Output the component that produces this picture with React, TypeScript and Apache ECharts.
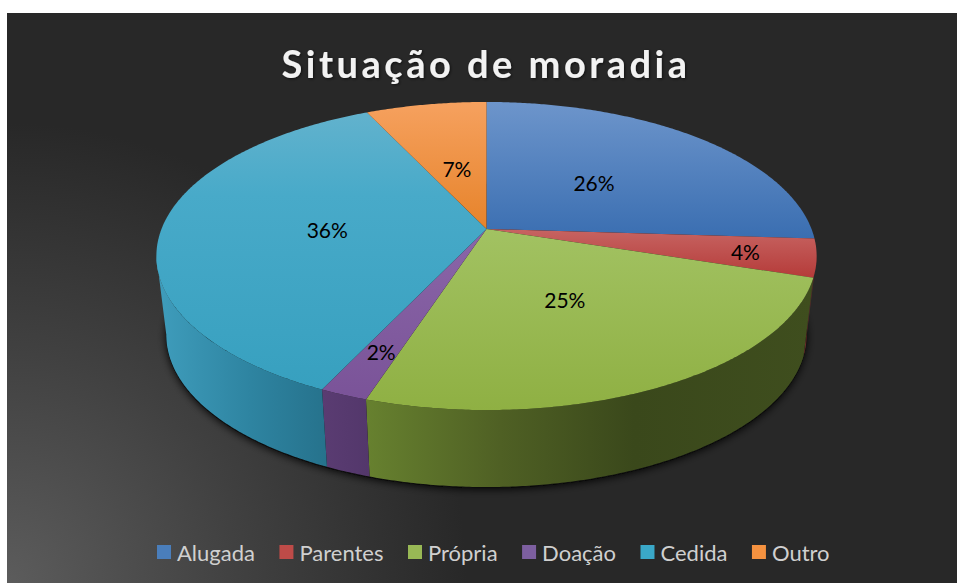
import React, { useEffect, useRef } from "react";
import * as echarts from "echarts";

const titleText = "Situação de moradia";
const categories = ["Alugada", "Parentes", "Própria", "Doação", "Cedida", "Outro"];
const values = [26, 4, 25, 2, 36, 7];
const labelRadii = [0.48, 0.79, 0.49, 0.77, 0.49, 0.45];
const legendColors = ["#4a7ebb", "#be4b48", "#98b855", "#7d5fa0", "#3aa8c8", "#f59240"];
const topStops: [number, string][][] = [
  [[0, "#6d95cb"], [1, "#3a6eb1"]],
  [[0, "#c76462"], [1, "#b53b39"]],
  [[0, "#a2c262"], [1, "#8fb043"]],
  [[0, "#8a66a8"], [1, "#7a5398"]],
  [[0, "#62b2cd"], [0.3, "#48aac9"], [1, "#37a0bf"]],
  [[0, "#f6a15f"], [1, "#e6832a"]],
];
const wallStops: [number, string][][] = [
  [[0, "#2f4a70"], [1, "#2f4a70"]],
  [[0, "#6a2c2a"], [1, "#5e2625"]],
  [[0, "#67812f"], [0.3, "#4f6024"], [0.6, "#3a481b"], [1, "#3f4e1e"]],
  [[0, "#5a3c72"], [1, "#53376b"]],
  [[0, "#3f9dbc"], [0.55, "#2e84a1"], [1, "#26728c"]],
  [[0, "#8a5520"], [1, "#8a5520"]],
];

// Perspective model of the pie
const CX = 486.5;
const CY = 229;
const A = 325;
const B = 149.3;
const K = 0.1753;
const BOTTOM_SCALE_X = 0.97;
const BOTTOM_SCALE_Y = 0.987;
const BOTTOM_DY = 79.35;

function project(deg: number, r: number, bottom: boolean): [number, number] {
  const t = (deg * Math.PI) / 180;
  const u = Math.sin(t) * r;
  const v = -Math.cos(t) * r;
  const s = 1 / (1 - K * v);
  const fx = bottom ? BOTTOM_SCALE_X : 1;
  const fy = bottom ? BOTTOM_SCALE_Y : 1;
  const dy = bottom ? BOTTOM_DY : 0;
  return [CX + fx * A * u * s, CY + dy + fy * B * v * s];
}

function arc(from: number, to: number, bottom: boolean): [number, number][] {
  const pts: [number, number][] = [];
  const n = Math.max(2, Math.ceil((to - from) * 2));
  for (let i = 0; i <= n; i++) pts.push(project(from + ((to - from) * i) / n, 1, bottom));
  return pts;
}

const starts: number[] = [];
values.reduce((sum, v, i) => {
  starts[i] = sum;
  return sum + v;
}, 0);

function grad(stops: [number, string][], horizontal: boolean) {
  return {
    type: "linear", x: 0, y: 0, x2: horizontal ? 1 : 0, y2: horizontal ? 0 : 1,
    colorStops: stops.map(([offset, color]) => ({ offset, color })),
  };
}

function sliceSeries(index: number) {
  return {
    type: "custom",
    name: categories[index],
    coordinateSystem: "none",
    silent: true,
    itemStyle: { color: legendColors[index] },
    data: [[values[index], starts[index]]],
    renderItem: (_p: any, api: any) => {
      const value = api.value(0);
      const start = api.value(1);
      const a0 = (start / 100) * 360;
      const a1 = ((start + value) / 100) * 360;
      const children: any[] = [];
      const w0 = Math.max(a0, 100);
      const w1 = Math.min(a1, 260);
      if (w1 > w0) {
        children.push({
          type: "polygon",
          z2: 5,
          shape: { points: [...arc(w0, w1, false), ...arc(w0, w1, true).reverse()] },
          style: { fill: grad(wallStops[index], true) },
        });
      }
      children.push({
        type: "polygon",
        z2: 10,
        shape: { points: [[CX, CY], ...arc(a0, a1, false)] },
        style: { fill: grad(topStops[index], false) },
      });
      const [lx, ly] = project(((start + value / 2) / 100) * 360, labelRadii[index], false);
      children.push({
        type: "text",
        z2: 20,
        x: lx,
        y: ly,
        style: {
          text: `${value}%`,
          fill: "#000000",
          fontSize: 21,
          fontFamily: "Lato",
          align: "center",
          verticalAlign: "middle",
        },
      });
      return { type: "group", children };
    },
  };
}

const shadowSeries = {
  type: "custom",
  name: "sombra",
  coordinateSystem: "none",
  silent: true,
  data: [[100]],
  renderItem: (_p: any, api: any) => ({
    type: "polygon",
    z2: 1,
    shape: { points: arc(0, (api.value(0) / 100) * 360, true).map(([x, y]) => [x, y + 1]) },
    style: { fill: "#0a0a0a", shadowBlur: 8, shadowColor: "rgba(0,0,0,0.95)", shadowOffsetY: 1 },
  }),
};

export default function App() {
  const ref = useRef<HTMLDivElement>(null);
  useEffect(() => {
    const chart = echarts.init(ref.current!, undefined, { renderer: "svg" });
    chart.setOption({
      animation: false,
      backgroundColor: "#ffffff",
      title: {
        text: titleText,
        left: 481,
        top: 39,
        textAlign: "center",
        textStyle: {
          color: "#f2f2f2",
          fontFamily: "Lato",
          fontWeight: "bold",
          fontSize: 38,
          textShadowColor: "rgba(0,0,0,0.6)",
          textShadowBlur: 3,
          textShadowOffsetX: 1,
          textShadowOffsetY: 1,
        },
      },
      legend: {
        left: 152,
        top: 536,
        data: categories,
        icon: "rect",
        itemWidth: 14,
        itemHeight: 14,
        itemGap: 24.5,
        selectedMode: false,
        textStyle: { color: "#d0d0d0", fontFamily: "Lato", fontSize: 22, padding: [0, 0, 0, 1] },
      },
      graphic: [
        {
          type: "rect",
          z: -1,
          silent: true,
          shape: { x: 7, y: 13, width: 950, height: 570 },
          style: {
            fill: {
              type: "radial", x: 7, y: 583, r: 460, global: true,
              colorStops: [
                { offset: 0, color: "#5c5c5c" },
                { offset: 0.5, color: "#414141" },
                { offset: 1, color: "#282828" },
              ],
            },
          },
        },
      ],
      series: [shadowSeries, ...categories.map((_, i) => sliceSeries(i))],
    });
    ref.current!.querySelectorAll("text").forEach((t) => {
      if (t.textContent === titleText) (t as any).style.letterSpacing = "3.5px";
    });
    return () => chart.dispose();
  }, []);
  return <div ref={ref} style={{ position: "fixed", left: 0, top: 0, width: 957, height: 583 }} />;
}
